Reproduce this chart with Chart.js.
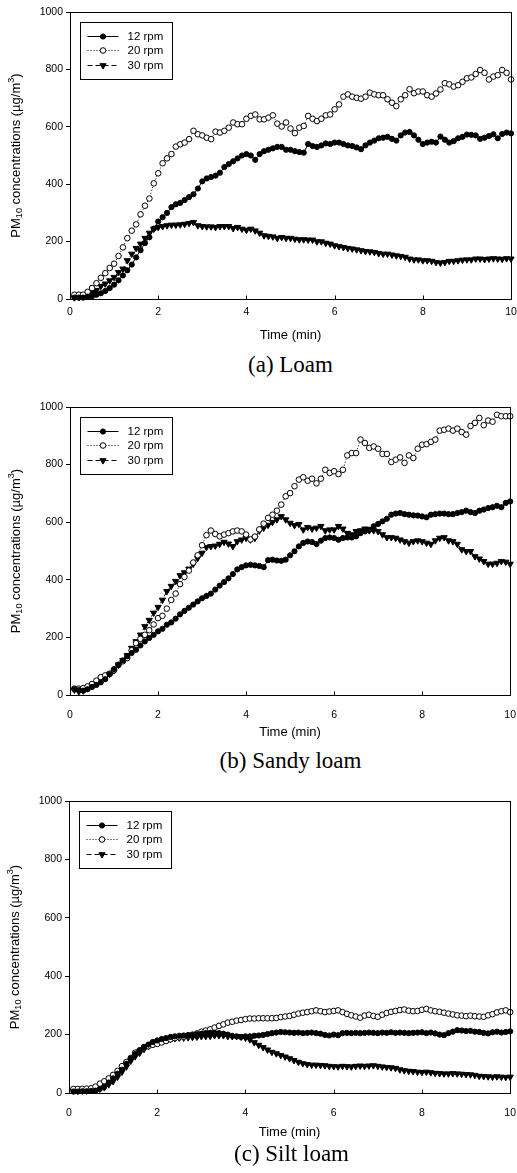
<!DOCTYPE html>
<html>
<head>
<meta charset="utf-8">
<script src="https://cdn.jsdelivr.net/npm/chart.js@4/dist/chart.umd.min.js"></script>
<style>
html,body{margin:0;padding:0;background:#fff;}
body{width:517px;height:1173px;overflow:hidden;position:relative;}
.panel{position:absolute;left:0;}
.cap{position:absolute;white-space:nowrap;font-family:"Liberation Serif","Times New Roman",serif;font-size:23px;color:#000;transform:translate(-50%,-50%);line-height:1;}
</style>
</head>
<body>
<div class="panel" id="p1"><canvas id="c1"></canvas></div>
<div class="panel" id="p2"><canvas id="c2"></canvas></div>
<div class="panel" id="p3"><canvas id="c3"></canvas></div>
<div class="cap" id="cap1"></div>
<div class="cap" id="cap2"></div>
<div class="cap" id="cap3"></div>
<script>
// ---------- data ----------
const times = Array.from({length: 100}, (_, i) => (i + 1) / 10);   // sampling times (min)
const seriesLabels = ['12 rpm', '20 rpm', '30 rpm'];
const xTickValues = [0, 2, 4, 6, 8, 10];
const yTickValues = [0, 200, 400, 600, 800, 1000];
const xTitle = 'Time (min)';
const captions = ['(a) Loam', '(b) Sandy loam', '(c) Silt loam'];

const loam12 = [5,5,5,8,10,15,20,28,38,50,
  65,82,100,120,145,170,195,215,245,270,
  285,300,320,330,335,345,355,365,385,410,
  420,425,430,440,460,470,480,490,500,505,
  500,485,505,515,520,525,530,530,520,520,
  515,512,510,540,533,530,535,542,540,545,
  545,540,535,533,528,522,535,545,552,560,
  562,565,558,552,570,580,582,570,555,540,
  545,548,545,566,555,545,550,560,565,573,
  572,570,558,562,568,574,560,575,580,577];
const loam20 = [15,15,15,25,38,55,74,90,108,123,
  150,180,212,238,260,295,325,350,403,438,
  473,490,505,531,539,545,557,586,574,570,
  562,557,583,580,586,597,615,609,609,628,
  638,643,626,626,632,640,611,601,615,594,
  578,597,603,638,628,620,628,640,643,661,
  678,705,713,705,701,698,705,719,713,710,
  710,696,684,672,696,710,731,717,723,723,
  710,705,716,730,752,748,740,745,757,769,
  772,784,798,788,765,775,780,798,788,765];
const loam30 = [5,6,8,15,22,30,45,53,64,76,
  93,105,134,157,177,192,212,230,244,250,
  253,256,258,258,259,261,264,267,256,253,
  252,252,250,253,253,253,246,250,244,240,
  244,238,230,221,219,217,212,215,212,212,
  209,207,207,206,206,200,200,195,192,186,
  183,180,177,175,172,169,166,165,163,159,
  157,157,154,151,149,146,140,137,137,134,
  134,132,128,126,128,132,132,134,136,137,
  137,140,140,138,140,141,140,139,141,140];

const sandy12 = [20,17,15,20,28,35,44,55,72,90,
  104,120,134,146,157,172,186,198,209,221,
  230,244,252,265,280,292,303,314,325,336,
  344,352,366,380,392,405,420,436,444,450,
  452,450,448,444,468,470,467,466,470,485,
  499,516,528,533,531,524,536,545,547,545,
  539,545,547,547,551,562,568,574,586,594,
  603,612,626,630,632,628,626,624,623,620,
  617,626,628,630,630,628,628,632,635,640,
  635,632,640,644,649,652,657,652,667,672];
const sandy20 = [22,22,24,30,38,50,62,68,74,86,
  105,117,128,155,180,195,209,225,245,267,
  275,300,330,352,385,410,432,460,485,520,
  555,571,559,551,557,562,568,571,568,557,
  540,550,575,595,615,626,640,661,690,701,
  725,748,756,744,751,735,751,782,771,777,
  767,782,832,840,840,887,875,858,863,855,
  837,837,809,817,825,806,832,823,855,869,
  871,879,887,918,921,925,918,925,913,904,
  934,945,962,937,953,949,973,968,968,968];
const sandy30 = [18,12,15,24,33,41,53,64,73,85,
  105,120,138,163,186,209,238,260,285,305,
  330,360,378,395,415,425,438,455,475,493,
  513,516,518,524,531,525,516,533,539,545,
  539,545,570,580,590,600,609,620,609,597,
  589,593,574,582,577,580,586,571,574,574,
  586,577,562,557,568,571,577,571,571,568,
  557,547,547,545,539,533,528,533,536,533,
  528,524,536,545,547,536,533,524,505,499,
  499,481,473,464,455,455,458,464,462,455];

const silt12 = [5,5,6,6,7,8,14,22,36,50,
  66,80,100,118,134,146,158,166,175,180,
  185,188,192,194,196,197,198,199,201,203,
  205,206,206,205,203,200,196,194,192,194,
  194,196,197,199,202,205,207,209,208,207,
  206,207,205,206,207,205,203,199,197,200,
  198,205,206,205,206,205,206,207,206,205,
  207,206,208,206,207,206,205,206,207,208,
  205,207,204,200,198,205,210,215,214,212,
  213,210,209,206,204,208,210,207,209,211];
const silt20 = [14,14,14,15,16,22,32,40,50,62,
  76,92,106,120,138,146,156,160,165,168,
  173,178,184,188,191,193,197,200,204,210,
  214,218,224,230,235,241,244,248,250,253,
  255,255,256,256,256,256,257,260,262,264,
  268,272,275,277,280,283,280,277,279,281,
  283,277,271,266,262,258,265,268,264,261,
  268,274,278,281,284,286,282,280,281,285,
  288,283,280,278,275,272,269,266,265,263,
  265,263,262,261,266,270,276,280,283,277];
const silt30 = [8,8,8,8,9,10,14,19,29,40,
  55,72,90,110,125,137,150,160,168,175,
  180,183,185,187,189,189,190,191,192,194,
  194,195,197,197,197,194,194,194,192,189,
  183,173,164,156,148,140,135,129,124,118,
  112,106,101,98,96,96,95,94,92,91,
  90,92,91,90,92,93,92,93,94,92,
  90,88,87,85,80,77,75,74,72,71,
  72,70,68,67,66,66,67,66,65,64,
  63,61,58,57,56,55,56,55,54,55];

// ---------- layout (page pixels) ----------
const CANVAS_W = 530;
const panels = [
  {canvas:'c1', box:'p1', cap:'cap1', series:[loam12, loam20, loam30],
   top:0, height:350, area:{l:70, t:12, r:511, b:299}, tickPad:7, xTitleY:335, capY:364, yTitleX:16},
  {canvas:'c2', box:'p2', cap:'cap2', series:[sandy12, sandy20, sandy30],
   top:395, height:350, area:{l:70, t:407, r:511, b:695}, tickPad:14, xTitleY:732, capY:760, yTitleX:16},
  {canvas:'c3', box:'p3', cap:'cap3', series:[silt12, silt20, silt30],
   top:790, height:360, area:{l:69, t:801, r:514, b:1093}, tickPad:14, xTitleY:1132, capY:1153, yTitleX:15}
];

const SANS = '"Liberation Sans", Arial, sans-serif';
const styles = [
  {pointStyle:'circle', radius:2.6, fill:'#000', dash:[], rotation:0},
  {pointStyle:'circle', radius:2.8, fill:'#fff', dash:[1,2], rotation:0},
  {pointStyle:'triangle', radius:3.6, fill:'#000', dash:[5,3], rotation:180}
];

function drawMarker(ctx, st, x, y) {
  ctx.save();
  ctx.setLineDash([]);
  ctx.fillStyle = st.fill; ctx.strokeStyle = '#000'; ctx.lineWidth = 1;
  ctx.beginPath();
  if (st.pointStyle === 'circle') {
    ctx.arc(x, y, st.radius, 0, Math.PI * 2);
  } else {
    const r = st.radius;
    ctx.moveTo(x - r * 0.866, y - r * 0.5);
    ctx.lineTo(x + r * 0.866, y - r * 0.5);
    ctx.lineTo(x, y + r);
    ctx.closePath();
  }
  ctx.fill(); ctx.stroke();
  ctx.restore();
}

const decorPlugin = {
  id: 'decor',
  afterDraw(chart, args, opts) {
    const {ctx, chartArea: a} = chart;
    ctx.save();
    ctx.strokeStyle = '#000'; ctx.lineWidth = 1; ctx.setLineDash([]);
    // frame
    const L = Math.round(a.left) + 0.5, T = Math.round(a.top) + 0.5;
    const R = Math.round(a.right) + 0.5, B = Math.round(a.bottom) + 0.5;
    ctx.strokeRect(L, T, R - L, B - T);
    // inward x tick marks
    const xs = chart.scales.x;
    xTickValues.forEach(v => {
      const px = Math.round(xs.getPixelForValue(v)) + 0.5;
      ctx.beginPath(); ctx.moveTo(px, B); ctx.lineTo(px, B - 4); ctx.stroke();
    });
    // legend box
    const lx = L + 10, ly = T + 10, lw = 92, lh = 57;
    ctx.fillStyle = '#fff';
    ctx.fillRect(lx, ly, lw, lh);
    ctx.strokeRect(lx, ly, lw, lh);
    chart.data.datasets.forEach((ds, i) => {
      const st = styles[i];
      const yy = Math.round(ly + 13 + i * 14.5) + 0.5;
      ctx.save();
      ctx.setLineDash(st.dash); ctx.strokeStyle = '#000'; ctx.lineWidth = 1;
      ctx.beginPath(); ctx.moveTo(lx + 7, yy); ctx.lineTo(lx + 38, yy); ctx.stroke();
      ctx.restore();
      drawMarker(ctx, st, lx + 22.5, yy);
      ctx.fillStyle = '#000';
      ctx.font = '11.5px ' + SANS;
      ctx.textBaseline = 'middle'; ctx.textAlign = 'left';
      ctx.fillText(ds.label, lx + 47, yy);
    });
    // y-axis title with subscript / superscript
    const size = 13;
    const parts = [
      {t:'PM', s:size, dy:0},
      {t:'10', s:size * 0.7, dy:3},
      {t:' concentrations (\u00B5g/m', s:size, dy:0},
      {t:'3', s:size * 0.7, dy:-5},
      {t:')', s:size, dy:0}
    ];
    let total = 0;
    parts.forEach(p => { ctx.font = p.s + 'px ' + SANS; p.w = ctx.measureText(p.t).width; total += p.w; });
    ctx.translate(opts.yTitleX, (a.top + a.bottom) / 2);
    ctx.rotate(-Math.PI / 2);
    ctx.fillStyle = '#000'; ctx.textBaseline = 'middle'; ctx.textAlign = 'left';
    let cx = -total / 2;
    parts.forEach(p => { ctx.font = p.s + 'px ' + SANS; ctx.fillText(p.t, cx, p.dy); cx += p.w; });
    ctx.restore();
  }
};

panels.forEach((p, idx) => {
  const box = document.getElementById(p.box);
  box.style.top = p.top + 'px';
  const cv = document.getElementById(p.canvas);
  cv.width = CANVAS_W; cv.height = p.height;
  cv.style.width = CANVAS_W + 'px'; cv.style.height = p.height + 'px';

  const cap = document.getElementById(p.cap);
  cap.textContent = captions[idx];
  cap.style.left = ((p.area.l + p.area.r) / 2) + 'px';
  cap.style.top = p.capY + 'px';

  const xAxisH = p.top + p.height - p.area.b;
  const titleLH = 13 * 1.2;
  const titlePadBottom = p.height - (p.xTitleY - p.top) - titleLH / 2;

  const datasets = p.series.map((vals, i) => ({
    label: seriesLabels[i],
    data: vals.map((v, k) => ({x: times[k], y: v})),
    borderColor: '#000',
    borderWidth: 1,
    borderDash: styles[i].dash,
    pointStyle: styles[i].pointStyle,
    pointRotation: styles[i].rotation,
    pointRadius: styles[i].radius,
    pointBackgroundColor: styles[i].fill,
    pointBorderColor: '#000',
    pointBorderWidth: 1,
    tension: 0,
    fill: false,
    clip: false
  }));

  new Chart(cv, {
    type: 'line',
    data: {datasets},
    options: {
      responsive: false,
      animation: false,
      events: [],
      layout: {padding: {left: 0, top: p.area.t - p.top, right: CANVAS_W - p.area.r, bottom: 0}},
      plugins: {legend: {display: false}, tooltip: {enabled: false}, decor: {yTitleX: p.yTitleX}},
      scales: {
        x: {
          type: 'linear', min: 0, max: 10,
          afterBuildTicks: s => { s.ticks = xTickValues.map(v => ({value: v})); },
          afterFit: s => { s.height = xAxisH; },
          grid: {drawOnChartArea: false, drawTicks: false},
          border: {display: false},
          ticks: {padding: p.tickPad, color: '#000', font: {family: SANS, size: 10.5, weight: 'normal'},
                  maxRotation: 0, autoSkip: false, callback: v => String(v)},
          title: {display: true, text: xTitle, color: '#000', font: {family: SANS, size: 13, weight: 'normal'},
                  padding: {top: 0, bottom: titlePadBottom}}
        },
        y: {
          type: 'linear', min: 0, max: 1000,
          afterBuildTicks: s => { s.ticks = yTickValues.map(v => ({value: v})); },
          afterFit: s => { s.width = p.area.l; },
          grid: {drawOnChartArea: false, drawTicks: true, tickLength: 4, color: '#000'},
          border: {display: false},
          ticks: {padding: 3, color: '#000', font: {family: SANS, size: 10.5, weight: 'normal'},
                  callback: v => String(v)}
        }
      }
    },
    plugins: [decorPlugin]
  });
});
</script>
</body>
</html>
